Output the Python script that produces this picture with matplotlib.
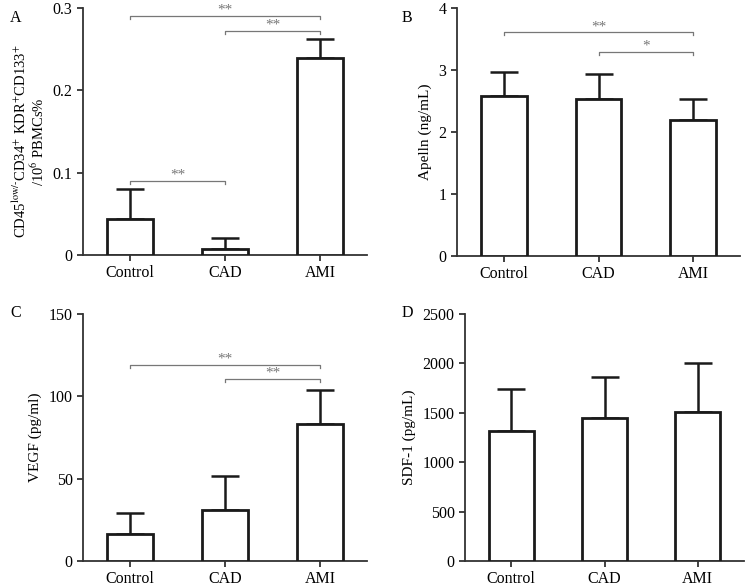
import matplotlib
matplotlib.use("Agg")
import matplotlib.pyplot as plt

plt.rcParams["font.family"] = ["Liberation Serif", "DejaVu Serif"]
plt.rcParams["mathtext.fontset"] = "stix"

groups = ["Control", "CAD", "AMI"]

epc_mean = [0.0435, 0.0077, 0.239]
epc_err = [0.0363, 0.0129, 0.023]
apelin_mean = [2.58, 2.54, 2.20]
apelin_err = [0.38, 0.39, 0.34]
vegf_mean = [16.2, 31.0, 83.0]
vegf_err = [12.9, 20.6, 20.8]
sdf_mean = [1320, 1452, 1513]
sdf_err = [420, 415, 487]

# significance brackets: (left group, right group, height, label)
epc_sig = [(0, 2, 0.2905, "**"), (1, 2, 0.272, "**"), (0, 1, 0.0899, "**")]
apelin_sig = [(0, 2, 3.61, "**"), (1, 2, 3.29, "*")]
vegf_sig = [(0, 2, 119, "**"), (1, 2, 110.7, "**")]
sdf_sig = []

panels = [
    ("A", [83, 367, 8, 255], epc_mean, epc_err, epc_sig, 0.3, [0, 0.1, 0.2, 0.3],
     "CD45$^{\\mathrm{low/\u2010}}$CD34$^{+}$ KDR$^{+}$CD133$^{+}$\n/10$^{6}$ PBMCs%", (10, 10), 10.5),
    ("B", [457, 740, 8, 256], apelin_mean, apelin_err, apelin_sig, 4, [0, 1, 2, 3, 4],
     "Apelln (ng/mL)", (402, 10), 11),
    ("C", [83, 367, 314, 561], vegf_mean, vegf_err, vegf_sig, 150, [0, 50, 100, 150],
     "VEGF (pg/ml)", (10, 305), 11),
    ("D", [465, 744, 314, 561], sdf_mean, sdf_err, sdf_sig, 2500, [0, 500, 1000, 1500, 2000, 2500],
     "SDF-1 (pg/mL)", (402, 305), 11),
]

W, H = 754, 586
fig = plt.figure(figsize=(W / 100, H / 100), dpi=100)

for letter, (x0, x1, y0, y1), mean, err, sig, ymax, yticks, ylabel, lpos, yfs in panels:
    ax = fig.add_axes([x0 / W, 1 - y1 / H, (x1 - x0) / W, (y1 - y0) / H])
    xs = range(len(groups))
    ax.bar(xs, mean, width=0.48, color="white", edgecolor="#1a1a1a", linewidth=2, zorder=3)
    ax.errorbar(xs, mean, yerr=[[0] * len(err), err], fmt="none", ecolor="#1a1a1a",
                elinewidth=1.8, capsize=10, capthick=1.8, zorder=2)
    for a, b, h, lab in sig:
        d = ymax * 0.013
        ax.plot([a, a, b, b], [h - d, h, h, h - d], color="#777777", lw=0.9, zorder=4)
        ax.text((a + b) / 2, h - ymax * 0.004, lab, ha="center", va="bottom",
                color="#777777", fontsize=11)
    ax.set_xlim(-0.495, 2.495)
    ax.set_ylim(0, ymax)
    ax.set_yticks(yticks)
    ax.set_yticklabels([str(t) for t in yticks])
    ax.set_xticks(list(xs))
    ax.set_xticklabels(groups)
    ax.tick_params(axis="both", labelsize=11.5, width=1.3, length=4, color="#333333")
    ax.spines["top"].set_visible(False)
    ax.spines["right"].set_visible(False)
    for s in ("left", "bottom"):
        ax.spines[s].set_linewidth(1.3)
        ax.spines[s].set_color("#333333")
    ax.set_ylabel(ylabel, fontsize=yfs, linespacing=1.0, labelpad=5)
    if letter == "A":
        ax.yaxis.set_label_coords(-0.127, 0.46)
    fig.text(lpos[0] / W, 1 - lpos[1] / H, letter, fontsize=11.5, ha="left", va="top")

fig.savefig("out.png", dpi=100)
